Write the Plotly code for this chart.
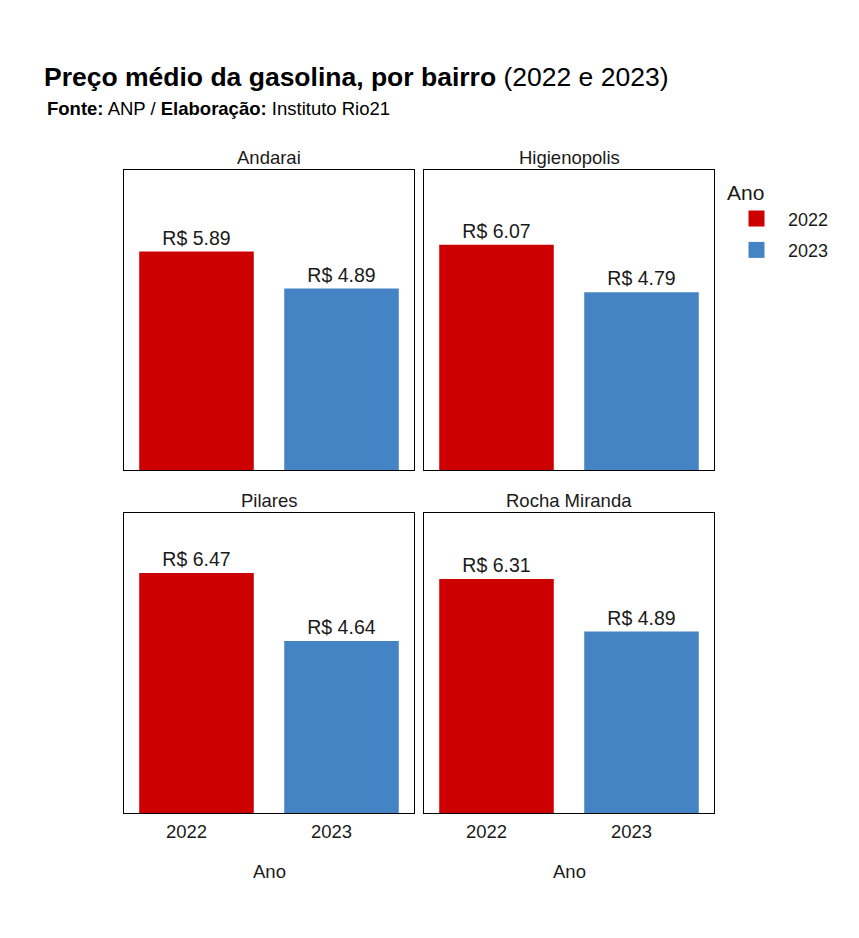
import plotly.graph_objects as go

W, H = 859, 938

bairros = ["Andarai", "Higienopolis", "Pilares", "Rocha Miranda"]
anos = ["2022", "2023"]
precos_2022 = [5.89, 6.07, 6.47, 6.31]
precos_2023 = [4.89, 4.79, 4.64, 4.89]
cores = {"2022": "#CD0000", "2023": "#4584C4"}

FONT = "Liberation Sans, Arial, sans-serif"

# panel pixel boxes (left, top, right, bottom)
panels = [(124, 170, 414, 470), (424, 170, 714, 470),
          (124, 513, 414, 813), (424, 513, 714, 813)]

ymax = max(precos_2022 + precos_2023) * 1.25

fig = go.Figure()
annotations = []
for i, b in enumerate(bairros):
    l, t, r, bt = panels[i]
    xa = "x" if i == 0 else f"x{i+1}"
    ya = "y" if i == 0 else f"y{i+1}"
    vals = [precos_2022[i], precos_2023[i]]
    fig.add_trace(go.Bar(
        x=anos, y=vals, xaxis=xa, yaxis=ya,
        marker=dict(color=[cores[a] for a in anos], line=dict(width=0)),
        width=0.79,
        text=[f"R$ {v:.2f}" for v in vals],
        textposition="outside", cliponaxis=False,
        textfont=dict(family=FONT, size=19.5, color="#1a1a1a"),
        showlegend=False, hoverinfo="skip"))
    key = "" if i == 0 else str(i + 1)
    bottom_row = i >= 2
    fig.layout["xaxis" + key] = dict(
        domain=[l / W, r / W], anchor=ya, type="category",
        range=[-0.5, 1.5], showline=True, mirror=True,
        linecolor="black", linewidth=1.3, showgrid=False, zeroline=False,
        ticks="", showticklabels=bottom_row, ticklabelstandoff=2,
        ticklabelshift=-10,
        tickfont=dict(family=FONT, size=18.5, color="#1a1a1a"), fixedrange=True)
    fig.layout["yaxis" + key] = dict(
        domain=[1 - bt / H, 1 - t / H], anchor=xa,
        range=[0, ymax], showline=True, mirror=True,
        linecolor="black", linewidth=1.3, showgrid=False, zeroline=False,
        ticks="", showticklabels=False, fixedrange=True)
    annotations.append(dict(
        text=b, x=(l + r) / 2 / W, y=1 - (t - 13) / H, xref="paper", yref="paper",
        xanchor="center", yanchor="middle", showarrow=False,
        font=dict(family=FONT, size=18.5, color="#1a1a1a")))
    if bottom_row:
        annotations.append(dict(
            text="Ano", x=(l + r) / 2 / W, y=1 - 871 / H, xref="paper", yref="paper",
            xanchor="center", yanchor="middle", showarrow=False,
            font=dict(family=FONT, size=18.5, color="#1a1a1a")))

# legend entries
for a in anos:
    fig.add_trace(go.Scatter(
        x=[None], y=[None], mode="markers", name=a, legendgroup=a,
        marker=dict(symbol="square", size=19, color=cores[a]),
        showlegend=True))

annotations.append(dict(
    text="<b>Preço médio da gasolina, por bairro</b> (2022 e 2023)",
    x=42 / W, y=1 - 77 / H, xref="paper", yref="paper",
    xanchor="left", yanchor="middle", showarrow=False,
    font=dict(family=FONT, size=26.5, color="black")))
annotations.append(dict(
    text="<b>Fonte:</b> ANP / <b>Elaboração:</b> Instituto Rio21",
    x=45 / W, y=1 - 109 / H, xref="paper", yref="paper",
    xanchor="left", yanchor="middle", showarrow=False,
    font=dict(family=FONT, size=18.5, color="black")))

fig.update_layout(
    width=W, height=H, margin=dict(l=0, r=0, t=0, b=0),
    paper_bgcolor="white", plot_bgcolor="white",
    annotations=annotations,
    legend=dict(
        title=dict(text="Ano", font=dict(family=FONT, size=21, color="#1a1a1a")),
        x=725 / W, y=1 - 173 / H, xanchor="left", yanchor="top",
        font=dict(family=FONT, size=18, color="#1a1a1a"),
        itemsizing="trace", itemwidth=53, traceorder="grouped",
        tracegroupgap=5, bgcolor="rgba(0,0,0,0)"),
    font=dict(family=FONT),
)

fig.write_html("out.html")
